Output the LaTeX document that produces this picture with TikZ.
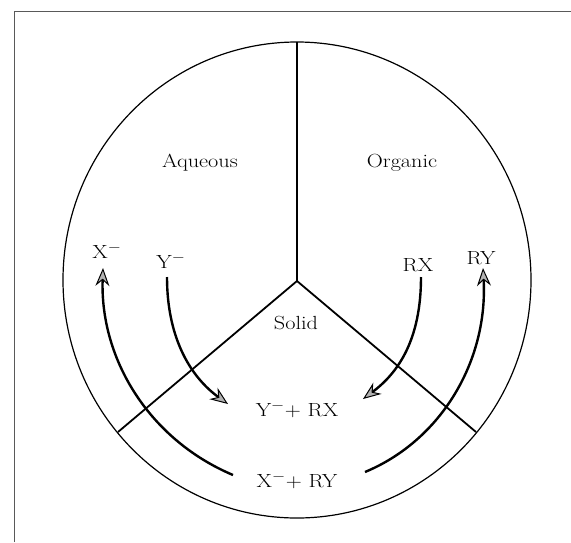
\documentclass[tikz,border=0pt]{standalone}
\usetikzlibrary{arrows.meta}
\begin{document}
\begin{tikzpicture}[x=1pt,y=-1pt,
  lbl/.style={anchor=base, inner sep=0pt, font=\fontsize{19}{22}\selectfont},
  region/.style={line width=1.8pt},
  rim/.style={line width=1.2pt},
  frame/.style={line width=1.4pt, draw=black!65},
  flow/.style={line width=2.4pt, -{Stealth[length=18pt,width=14pt,inset=6pt,fill=black!30,line width=1pt]}}]
\useasboundingbox (0,0) rectangle (571,542);
\draw[frame] (14.5,542) -- (14.5,11.5) -- (571,11.5);
% circle and regions
\coordinate (c) at (297,281);
\draw[rim] (297,280) ellipse [x radius=234, y radius=238];
\coordinate (ptop) at (297,42);
\coordinate (pleft) at (118,432);
\coordinate (pright) at (476,432);
\draw[region] (c) -- (ptop);
\draw[region] (c) -- (pleft);
\draw[region] (c) -- (pright);
% labels
\node[lbl] (aq) at (200,167) {\scalebox{1.17}[1]{Aqueous}};
\node[lbl] (org) at (402,167) {\scalebox{1.17}[1]{Organic}};
\node[lbl] (sol) at (296,329) {\scalebox{1.17}[1]{Solid}};
\node[lbl] (xm) at (107,258) {\scalebox{1.17}[1]{X$^-$}};
\node[lbl] (ym) at (171,268) {\scalebox{1.17}[1]{Y$^-$}};
\node[lbl] (rx) at (418,271) {\scalebox{1.17}[1]{RX}};
\node[lbl] (ry) at (481,264) {\scalebox{1.17}[1]{RY}};
\node[lbl] (p1) at (297,416) {\scalebox{1.17}[1]{Y$^-$+ RX}};
\node[lbl] (p2) at (297,487) {\scalebox{1.17}[1]{X$^-$+ RY}};
% arrow end points
\coordinate (y0) at (167,277);
\coordinate (y1) at (228,404);
\coordinate (r0) at (421,277);
\coordinate (r1) at (363,399);
\coordinate (x0) at (233,475);
\coordinate (x1) at (103,268);
\coordinate (q0) at (365,472);
\coordinate (q1) at (483,268);
\draw[flow] (y0) .. controls (167,340) and (192,378) .. (y1);
\draw[flow] (r0) .. controls (421,340) and (398,373) .. (r1);
\draw[flow] (x0) .. controls (150,440) and (100,360) .. (x1);
\draw[flow] (q0) .. controls (442,440) and (488,360) .. (q1);
\end{tikzpicture}
\end{document}
